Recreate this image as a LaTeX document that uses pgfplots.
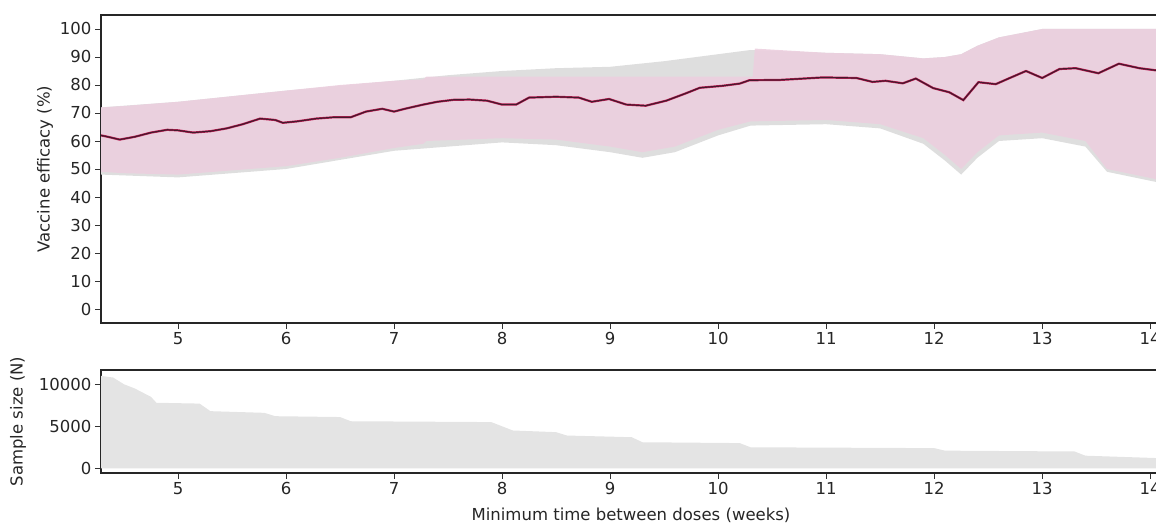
\documentclass[border=0pt]{standalone}
\usepackage{fontspec}
\setmainfont{DejaVu Sans}
\usepackage{pgfplots}
\pgfplotsset{compat=1.18}
\usepgfplotslibrary{fillbetween}
\definecolor{pinkband}{RGB}{236,207,223}
\definecolor{grayband}{RGB}{222,222,222}
\definecolor{nfill}{RGB}{228,228,228}
\definecolor{lred}{RGB}{195,30,85}
\definecolor{ldark}{RGB}{70,25,45}
\begin{document}
\begin{tikzpicture}
\pgfplotsset{
  myax/.style={
    scale only axis, width=1060pt, anchor=south west,
    xmin=4.287, xmax=14.1, xtick={5,...,14},
    tick align=outside, tick pos=left, major tick length=6pt,
    axis line style={line width=1.1pt, black!85},
    tick style={line width=0.9pt, black!80},
    tick label style={font=\fontsize{16.5}{19.8}\selectfont, black!85},
    label style={font=\fontsize{16.5}{19.8}\selectfont, black!85},
    /pgf/number format/assume math mode=true,
    clip=true,
  }
}
\begin{axis}[myax, at={(101pt,201pt)}, height=308pt,
  ymin=-5, ymax=105, ytick={0,10,...,100},
  ylabel={Vaccine efficacy (\%)},
  ylabel style={at={(axis description cs:-0.0528,0.5)}, anchor=center},
]
% gray band
\addplot[name path=gu, draw=none] coordinates {
(4.287,72) (5,74) (6,78) (7,81.5) (7.5,83.5) (8,85) (8.5,86) (9,86.5) (9.5,88.5) (10,91) (10.3,92.5) (11,91.5) (11.5,91) (11.9,89.5) (12.1,90) (12.25,91) (12.4,94) (12.6,97) (13,100) (14.1,100)};
\addplot[name path=gl, draw=none] coordinates {
(4.287,48) (5,47) (6,50) (7,56.5) (8,59.5) (8.5,58.5) (9,56) (9.3,54) (9.6,56) (10,62) (10.3,65.5) (11,66) (11.5,64.5) (11.9,59) (12.1,53) (12.25,48) (12.4,54) (12.6,60) (13,61) (13.4,58) (13.6,49) (14.1,45)};
\addplot[grayband] fill between[of=gu and gl];
% pink band
\addplot[name path=pu, draw=none] coordinates {
(4.287,72) (4.5,72.5) (5,74) (5.5,76) (6,78) (6.5,80) (7,81.5) (7.27,82) (7.3,83) (8,83) (9,83) (10,83) (10.32,83) (10.34,93) (11,91.5) (11.5,91) (11.9,89.5) (12.1,90) (12.25,91) (12.4,94) (12.6,97) (13,100) (14.1,100)};
\addplot[name path=pl, draw=none] coordinates {
(4.287,49) (4.5,48.5) (5,48) (5.5,49.5) (6,51) (6.5,54) (7,57.5) (7.27,59) (7.3,60) (8,61) (8.5,60.5) (9,58) (9.3,56) (9.6,58) (10,64) (10.3,67) (11,67.5) (11.5,66) (11.9,61) (12.1,55) (12.25,50) (12.4,56) (12.6,62) (13,63) (13.4,60) (13.6,50) (14.1,46)};
\addplot[pinkband, fill opacity=0.9] fill between[of=pu and pl];
% line
\pgfplotstableread{
x y
4.287 62
4.35 61.5
4.46 60.5
4.6 61.5
4.75 63
4.9 64
5.0 63.8
5.14 63
5.3 63.5
5.45 64.5
5.6 66
5.76 68
5.9 67.5
5.97 66.5
6.1 67
6.28 68
6.45 68.5
6.6 68.5
6.74 70.5
6.89 71.5
7.0 70.5
7.1 71.5
7.27 73
7.4 74
7.55 74.7
7.7 74.8
7.86 74.4
8.0 73
8.13 73
8.25 75.5
8.5 75.8
8.71 75.5
8.83 74
8.99 75
9.15 73
9.33 72.6
9.52 74.4
9.7 77
9.83 79
10.04 79.7
10.2 80.5
10.29 81.7
10.57 81.8
10.97 82.7
11.28 82.5
11.43 81.1
11.55 81.5
11.71 80.6
11.83 82.3
11.99 78.9
12.14 77.4
12.27 74.6
12.41 81
12.57 80.3
12.7 82.5
12.85 85
13.0 82.5
13.16 85.7
13.31 86
13.52 84.2
13.71 87.6
13.9 86
14.1 85
}\vetab
\addplot[lred, line width=2.2pt] table[x=x,y=y] {\vetab};
\addplot[ldark, line width=1.2pt] table[x=x,y=y] {\vetab};
\end{axis}
\begin{axis}[myax, at={(101pt,51pt)}, height=103pt,
  ymin=-560, ymax=11700, ytick={0,5000,10000},
  scaled y ticks=false,
  yticklabel style={/pgf/number format/1000 sep={}},
  ylabel={Sample size (N)},
  ylabel style={at={(axis description cs:-0.0783,0.5)}, anchor=center},
  xlabel={Minimum time between doses (weeks)},
  xlabel style={at={(axis description cs:0.5,-0.41)}, anchor=center},
]
\addplot[fill=nfill, draw=none] coordinates {
(4.287,0) (4.287,11000) (4.4,10800) (4.5,10000) (4.6,9500) (4.75,8500) (4.8,7800) (5.2,7700) (5.3,6800) (5.8,6600) (5.9,6200) (6.5,6100) (6.6,5600) (7.9,5500) (8.1,4500) (8.5,4300) (8.6,3900) (9.2,3700) (9.3,3100) (10.2,3000) (10.3,2500) (12.0,2400) (12.1,2100) (13.3,2000) (13.4,1500) (14.1,1200) (14.1,0)} \closedcycle;
\end{axis}
\pgfresetboundingbox
\path (0,0) rectangle (1156pt,524pt);
\end{tikzpicture}
\end{document}
